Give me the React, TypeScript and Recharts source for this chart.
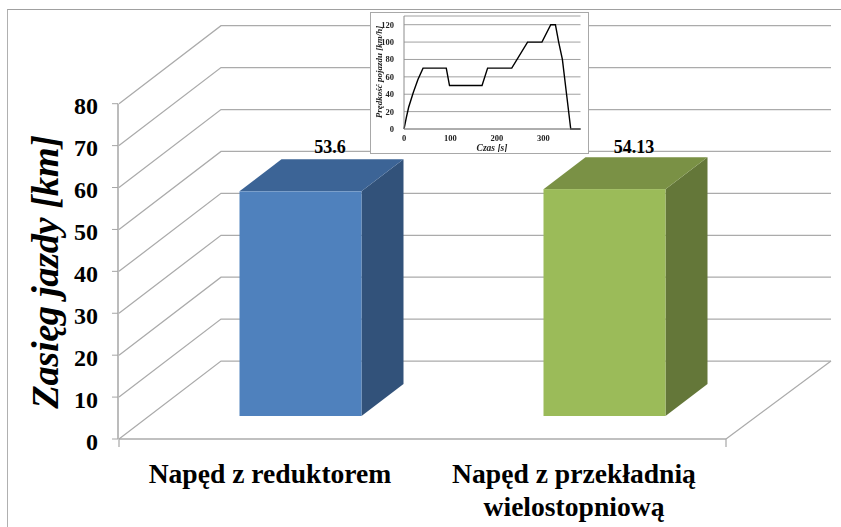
import React from 'react';
import { ComposedChart, LineChart, Bar, Line, XAxis, YAxis, CartesianGrid, LabelList, Cell } from 'recharts';

const categories = ['Napęd z reduktorem', 'Napęd z przekładnią|wielostopniową'];
const ranges = [53.6, 54.13];
const rangeLabels = ['53.6', '54.13'];
const rangeTicks = [0, 10, 20, 30, 40, 50, 60, 70, 80];

const timeS = [0, 5, 10, 20, 30, 41, 91, 98, 168, 180, 232, 266, 297, 316, 326, 333, 341, 350, 359, 380];
const speedKmh = [0, 13, 25, 42, 57, 70, 70, 50, 50, 70, 70, 100, 100, 120, 120, 100, 80, 40, 0, 0];
const speedTicks = [0, 20, 40, 60, 80, 100, 120];
const timeTicks = [0, 100, 200, 300];

const barData = categories.map((name, i) => ({ name, value: ranges[i], label: rangeLabels[i] }));
const cycleData = timeS.map((t, i) => ({ t, v: speedKmh[i] }));

const SERIF = '"Liberation Serif", "Times New Roman", serif';
const GRID = '#ababab';
const AXIS = '#a6a6a6';
const palette = [
  { front: '#4f81bd', side: '#32527a', top: '#3c6496' },
  { front: '#9bbb59', side: '#647739', top: '#7a9145' },
];

const gridLine = (p: any) => {
  const { x1, x2, y1, index } = p;
  const isFloor = Math.abs(y1 - 439) < 2;
  return (
    <g key={`g-${index}-${y1}`} fill="none" stroke={GRID} strokeWidth={1.25}>
      <path d={`M${x1 + 1},${y1} L${x1 + 103},${y1 - 78} L${x2 + 105},${y1 - 78}`} />
      {isFloor && (
        <>
          <path d={`M${x2},${y1} L${x2 + 105},${y1 - 78}`} />
          <path d={`M${x1 + 1},${y1} L${x2},${y1}`} strokeWidth={1.5} />
          <path d={`M${x1 + 1},${y1} V${y1 + 8} M${x2},${y1} V${y1 + 8}`} />
        </>
      )}
    </g>
  );
};

const Box = (p: any) => {
  const { x, y, width, height, index } = p;
  const c = palette[index];
  const sx = x + 30.5;
  const dy = -23;
  const t = y + dy;
  const b = y + height + dy;
  const r = sx + width;
  const ox = 42;
  const oy = 32;
  return (
    <g>
      <path d={`M${r},${t} L${r + ox},${t - oy} V${b - oy} L${r},${b} Z`} fill={c.side} />
      <path d={`M${sx},${t} L${sx + ox},${t - oy} H${r + ox} L${r},${t} Z`} fill={c.top} />
      <rect x={sx} y={t} width={width} height={height} fill={c.front} />
    </g>
  );
};

const BarValue = (p: any) => {
  const { x, width, value } = p;
  return (
    <text x={x + width / 2 + 60} y={153} textAnchor="middle" fontFamily={SERIF} fontWeight={700} fontSize={18} fill="#000">
      {value}
    </text>
  );
};

const CategoryTick = (p: any) => {
  const { x, payload } = p;
  const lines = String(payload.value).split('|');
  return (
    <text textAnchor="middle" fontFamily={SERIF} fontWeight={700} fontSize={27.6} fill="#000">
      {lines.map((l, i) => (
        <tspan key={l} x={x} y={483 + i * 33}>{l}</tspan>
      ))}
    </text>
  );
};

const YTitle = () => (
  <text
    transform="translate(58,272) rotate(-90)"
    textAnchor="middle"
    fontFamily={SERIF}
    fontWeight={700}
    fontStyle="italic"
    fontSize={38.5}
    letterSpacing={-0.4}
    fill="#000"
  >
    Zasięg jazdy [km]
  </text>
);

const inset = { fontFamily: SERIF, fontWeight: 700, fontSize: 8.5, fill: '#222' };

const Inset = () => (
  <div
    style={{
      position: 'absolute',
      left: 370,
      top: 12,
      width: 219,
      height: 142,
      boxSizing: 'border-box',
      border: '1.5px solid #a8a8a8',
      background: '#fff',
      filter: 'blur(0.35px)',
    }}
  >
    <LineChart width={216} height={139} data={cycleData} margin={{ top: 3, right: 6.5, bottom: 0, left: 0 }}>
      <CartesianGrid vertical={false} stroke="#a0a0a0" strokeWidth={1} />
      <XAxis
        dataKey="t"
        type="number"
        domain={[0, 380]}
        ticks={timeTicks}
        height={23}
        tick={inset}
        tickLine={false}
        axisLine={{ stroke: '#8c8c8c' }}
        tickMargin={0}
        interval={0}
      />
      <YAxis
        type="number"
        domain={[0, 130]}
        ticks={speedTicks}
        width={33}
        tick={inset}
        tickLine={false}
        axisLine={{ stroke: '#8c8c8c' }}
        tickMargin={4}
        interval={0}
      />
      <Line dataKey="v" stroke="#000" strokeWidth={1.4} dot={false} type="linear" isAnimationActive={false} />
      <text x={121} y={138} textAnchor="middle" fontFamily={SERIF} fontWeight={700} fontStyle="italic" fontSize={9.5} fill="#222">
        Czas [s]
      </text>
      <text
        transform="translate(11,59) rotate(-90)"
        textAnchor="middle"
        fontFamily={SERIF}
        fontWeight={700}
        fontStyle="italic"
        fontSize={9}
        fill="#222"
      >
        Prędkość pojazdu [km/h]
      </text>
    </LineChart>
  </div>
);

export default function App() {
  return (
    <div style={{ position: 'absolute', left: 0, top: 0, width: 841, height: 527, background: '#fff', overflow: 'hidden' }}>
      <div
        style={{
          position: 'absolute',
          left: 6.5,
          top: 9,
          width: 840,
          height: 530,
          boxSizing: 'border-box',
          borderLeft: '1.5px solid #b0b0b0',
          borderTop: '1.5px solid #a0a0a0',
        }}
      />
      <div style={{ position: 'absolute', left: 0, top: 0 }}>
        <ComposedChart
          width={841}
          height={527}
          data={barData}
          barCategoryGap="0%"
          margin={{ top: 103.7, right: 115, bottom: 0, left: 0 }}
          style={{ background: 'transparent' }}
        >
          <CartesianGrid vertical={false} horizontal={gridLine} />
          <XAxis dataKey="name" height={88} axisLine={false} tickLine={false} tick={<CategoryTick />} interval={0} />
          <YAxis
            type="number"
            domain={[0, 80]}
            ticks={rangeTicks}
            width={118}
            tick={{ fontFamily: SERIF, fontWeight: 700, fontSize: 24, fill: '#000', dy: 2 }}
            tickLine={{ stroke: AXIS }}
            axisLine={{ stroke: AXIS, strokeWidth: 1.5 }}
            tickSize={6}
            tickMargin={14}
            interval={0}
          />
          <YTitle />
          <Bar dataKey="value" barSize={122} shape={<Box />} isAnimationActive={false}>
            {barData.map((d) => (
              <Cell key={d.name} />
            ))}
            <LabelList dataKey="label" content={<BarValue />} />
          </Bar>
        </ComposedChart>
      </div>
      <Inset />
    </div>
  );
}
